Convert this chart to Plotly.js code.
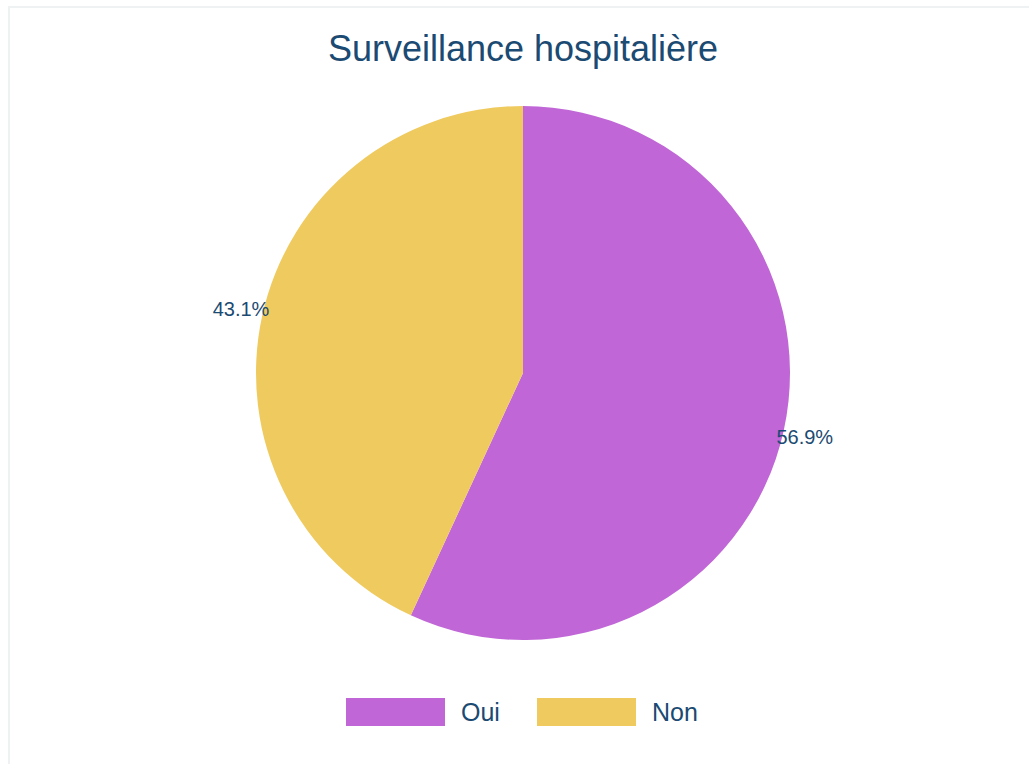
<!DOCTYPE html>
<html>
<head>
<meta charset="utf-8">
<script src="https://cdn.plot.ly/plotly-3.0.1.min.js"></script>
<style>
  html, body { margin: 0; padding: 0; overflow: hidden; background: #ffffff; }
  #chart { position: absolute; left: 0; top: 0; width: 1029px; height: 764px; }
  #frame { position: absolute; left: 8px; top: 6px; width: 1060px; height: 800px;
           border: 2px solid #eef2f2; box-sizing: border-box; pointer-events: none; }
</style>
</head>
<body>
<div id="chart"></div>
<div id="frame"></div>
<script>
const categories = ["Oui", "Non"];
const values = [56.9, 43.1];
const colors = ["#c066d6", "#efca5f"];
const titleText = "Surveillance hospitalière";

const W = 1029, H = 764;
const textColor = "#1b4a72";
const font = "Liberation Sans, Arial, sans-serif";

// pie placement (pixels)
const cx = 523, cy = 373, r = 267;
const rLabel = 256;   // radius used to place the percentage labels

function dom(rad) {
  return {
    x: [(cx - rad) / W, (cx + rad) / W],
    y: [(H - cy - rad) / H, (H - cy + rad) / H]
  };
}

const pieTrace = {
  type: "pie",
  labels: categories,
  values: values,
  sort: false,
  direction: "clockwise",
  rotation: 0,
  marker: { colors: colors, line: { width: 0 } },
  textinfo: "none",
  hoverinfo: "label+percent",
  showlegend: false,
  domain: dom(r)
};

// label layer: same data, transparent slices, labels placed outside
const labelTrace = {
  type: "pie",
  labels: categories,
  values: values,
  sort: false,
  direction: "clockwise",
  rotation: 2,
  marker: { colors: ["rgba(0,0,0,0)", "rgba(0,0,0,0)"], line: { width: 0 } },
  textinfo: "percent",
  texttemplate: "%{percent:.1%}",
  textposition: "outside",
  outsidetextfont: { family: font, size: 20, color: textColor },
  hoverinfo: "skip",
  showlegend: false,
  domain: dom(rLabel)
};

// custom legend with wide swatches
const shapes = [];
const annotations = [];
const legY = 712, swW = 99, swH = 28, textGap = 14;
const legX = [346, 537];
categories.forEach((c, i) => {
  shapes.push({
    type: "rect", xref: "paper", yref: "paper",
    x0: legX[i] / W, x1: (legX[i] + swW) / W,
    y0: (H - legY - swH / 2) / H, y1: (H - legY + swH / 2) / H,
    fillcolor: colors[i], line: { width: 0 }
  });
  annotations.push({
    xref: "paper", yref: "paper",
    x: (legX[i] + swW + textGap) / W, y: (H - legY) / H,
    xanchor: "left", yanchor: "middle",
    text: c, showarrow: false,
    font: { family: font, size: 25, color: textColor }
  });
});

const layout = {
  width: W, height: H,
  margin: { l: 0, r: 0, t: 0, b: 0 },
  paper_bgcolor: "rgba(0,0,0,0)",
  plot_bgcolor: "rgba(0,0,0,0)",
  title: {
    text: titleText,
    font: { family: font, size: 36, color: textColor },
    x: 523 / W, xanchor: "center",
    y: 1 - 48 / H, yanchor: "middle",
    xref: "paper", yref: "paper"
  },
  showlegend: false,
  shapes: shapes,
  annotations: annotations
};

Plotly.newPlot("chart", [pieTrace, labelTrace], layout, { displayModeBar: false, staticPlot: true });
</script>
</body>
</html>
